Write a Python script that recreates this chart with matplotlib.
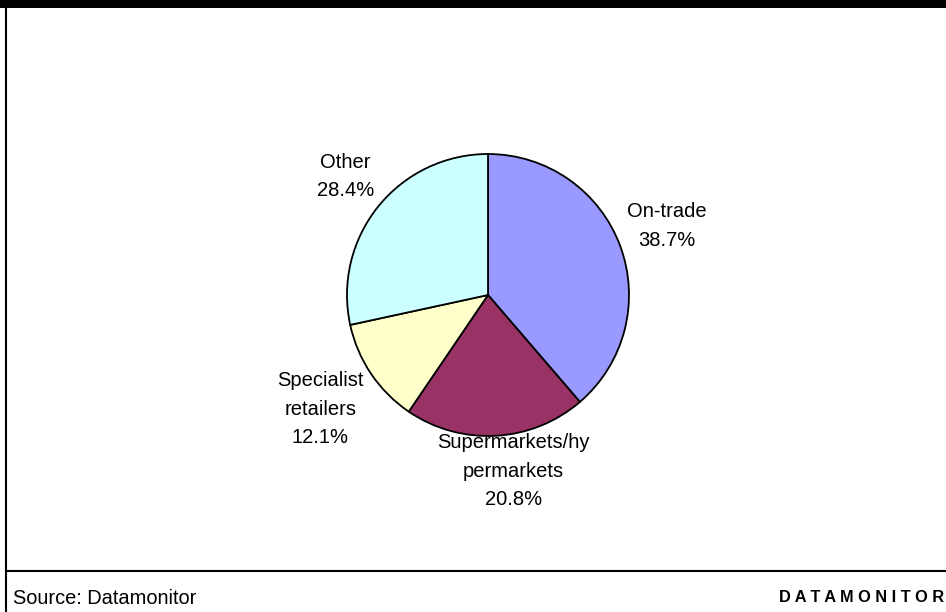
import matplotlib
matplotlib.use("Agg")
import matplotlib.pyplot as plt
from matplotlib.patches import Rectangle
from matplotlib.lines import Line2D

plt.rcParams['font.family'] = ['Liberation Sans', 'DejaVu Sans']

categories = ["On-trade", "Supermarkets/hy\npermarkets", "Specialist\nretailers", "Other"]
values = [38.7, 20.8, 12.1, 28.4]
colors = ["#9999FF", "#993366", "#FFFFCC", "#CCFFFF"]
label_pos = [(1.27, 0.49), (0.18, -1.25), (-1.19, -0.81), (-1.01, 0.84)]

W, H = 946, 612
fig = plt.figure(figsize=(W / 100, H / 100), dpi=100)
fig.patch.set_facecolor("white")

cx, cy, r = 488, 295, 141
ax = fig.add_axes([(cx - r) / W, (H - cy - r) / H, 2 * r / W, 2 * r / H])
ax.pie(values, colors=colors, startangle=90, counterclock=False, radius=1,
       wedgeprops=dict(edgecolor="black", linewidth=1.3))
ax.set_xlim(-1, 1)
ax.set_ylim(-1, 1)
ax.set_aspect("equal")
ax.axis("off")

for cat, v, (lx, ly) in zip(categories, values, label_pos):
    ax.text(lx, ly, f"{cat}\n{v:.1f}%", ha="center", va="center",
            fontsize=14.5, linespacing=1.62, color="black", clip_on=False)

# frame elements
fig.add_artist(Rectangle((0, 1 - 8 / H), 1, 8 / H, transform=fig.transFigure,
                         facecolor="black", edgecolor="none"))
fig.add_artist(Line2D([6 / W, 6 / W], [0, 1], transform=fig.transFigure,
                      color="black", linewidth=1.5))
fig.add_artist(Line2D([6 / W, 1], [1 - 571 / H, 1 - 571 / H], transform=fig.transFigure,
                      color="black", linewidth=1.5))

fig.text(13 / W, 1 - 598 / H, "Source: Datamonitor", ha="left", va="center",
         fontsize=14.4, color="black")
fig.text(779 / W, 1 - 598 / H, "D A T A M O N I T O R", ha="left", va="center",
         fontsize=11.8, fontweight="bold", color="black")

fig.savefig("out.png", dpi=100)
